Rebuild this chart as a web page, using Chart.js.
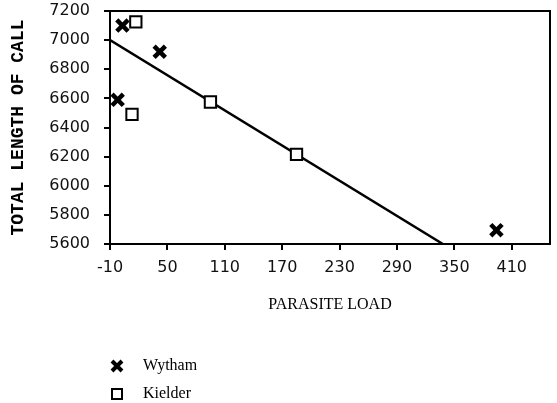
<!DOCTYPE html>
<html>
<head>
<meta charset="utf-8">
<script src="https://cdn.jsdelivr.net/npm/chart.js@4/dist/chart.umd.min.js"></script>
<style>
  html, body { margin: 0; padding: 0; background: #fff; }
  #wrap { position: relative; width: 557px; height: 403px; }
</style>
</head>
<body>
<div id="wrap"><canvas id="c" width="557" height="403"></canvas></div>
<script>
// ---- data ----
const xTickValues = [-10, 50, 110, 170, 230, 290, 350, 410];
const yTickValues = [5600, 5800, 6000, 6200, 6400, 6600, 6800, 7000, 7200];
const seriesNames = ['Wytham', 'Kielder'];
const wythamLoad = [3, 42, -2, 394];
const wythamCall = [7100, 6920, 6590, 5695];
const kielderLoad = [17, 13, 95, 185];
const kielderCall = [7125, 6490, 6575, 6215];
const fitLoad = [-10, 338];
const fitCall = [7000, 5600];
const xTitle = 'PARASITE LOAD';
const yTitle = 'TOTAL LENGTH OF CALL';

const toPts = (xs, ys) => xs.map((x, i) => ({x: x, y: ys[i]}));

const frame = {
  id: 'frame',
  afterDatasetsDraw(chart) {
    const {ctx, chartArea: a} = chart;
    ctx.save();
    ctx.strokeStyle = '#000';
    ctx.lineWidth = 2;
    ctx.beginPath();
    ctx.moveTo(a.left, a.top);
    ctx.lineTo(a.right, a.top);
    ctx.lineTo(a.right, a.bottom);
    ctx.stroke();
    ctx.restore();
  }
};

const legendPlugin = {
  id: 'sideLegend',
  afterDraw(chart) {
    const ctx = chart.ctx;
    const items = [
      {ds: chart.data.datasets[1], y: 366},
      {ds: chart.data.datasets[2], y: 394}
    ];
    ctx.save();
    items.forEach(it => {
      const cx = 117, cy = it.y;
      ctx.strokeStyle = '#000';
      ctx.fillStyle = '#fff';
      if (it.ds.pointStyle === 'crossRot') {
        ctx.lineWidth = 4;
        ctx.beginPath();
        ctx.moveTo(cx - 5, cy - 5); ctx.lineTo(cx + 5, cy + 5);
        ctx.moveTo(cx + 5, cy - 5); ctx.lineTo(cx - 5, cy + 5);
        ctx.stroke();
      } else {
        ctx.lineWidth = 2;
        ctx.fillRect(cx - 5, cy - 5, 10, 10);
        ctx.strokeRect(cx - 5, cy - 5, 10, 10);
      }
      ctx.fillStyle = '#000';
      ctx.font = '16px "Liberation Serif", serif';
      ctx.textBaseline = 'middle';
      ctx.textAlign = 'left';
      ctx.fillText(it.ds.label, 143, cy);
    });
    ctx.restore();
  }
};

new Chart(document.getElementById('c'), {
  type: 'scatter',
  data: {
    datasets: [
      {
        type: 'line',
        label: 'fit',
        data: toPts(fitLoad, fitCall),
        borderColor: '#000',
        borderWidth: 2.5,
        pointRadius: 0,
        fill: false,
        order: 3
      },
      {
        label: seriesNames[0],
        data: toPts(wythamLoad, wythamCall),
        pointStyle: 'crossRot',
        radius: 8,
        borderWidth: 4.5,
        borderColor: '#000',
        backgroundColor: '#000',
        order: 1
      },
      {
        label: seriesNames[1],
        data: toPts(kielderLoad, kielderCall),
        pointStyle: 'rect',
        radius: 8,
        borderWidth: 2,
        borderColor: '#000',
        backgroundColor: '#fff',
        order: 2
      }
    ]
  },
  options: {
    responsive: false,
    animation: false,
    layout: { autoPadding: false, padding: { left: 0, right: 7, top: 11, bottom: 0 } },
    plugins: { legend: { display: false }, tooltip: { enabled: false } },
    scales: {
      x: {
        type: 'linear',
        min: -10,
        max: 450,
        afterBuildTicks(scale) { scale.ticks = xTickValues.map(v => ({value: v})); },
        afterFit(scale) { scale.height = 159; scale.paddingLeft = 0; scale.paddingRight = 0; },
        grid: { display: true, drawOnChartArea: false, drawTicks: true, tickLength: 6, color: '#000', lineWidth: 2 },
        border: { display: true, color: '#000', width: 2 },
        ticks: { color: '#111', padding: 8, maxRotation: 0, font: { family: '"DejaVu Sans", sans-serif', size: 16 },
                 callback: v => String(v) },
        title: {
          display: true, text: xTitle, color: '#000',
          font: { family: '"Liberation Serif", serif', size: 16 },
          padding: { top: 0, bottom: 89 }
        }
      },
      y: {
        type: 'linear',
        min: 5600,
        max: 7200,
        afterBuildTicks(scale) { scale.ticks = yTickValues.map(v => ({value: v})); },
        afterFit(scale) { scale.width = 110; scale.paddingTop = 0; scale.paddingBottom = 0; },
        grid: { display: true, drawOnChartArea: false, drawTicks: true, tickLength: 6, color: '#000', lineWidth: 2 },
        border: { display: true, color: '#000', width: 2 },
        ticks: { color: '#111', padding: 14, font: { family: '"DejaVu Sans", sans-serif', size: 16 },
                 callback: v => String(v) },
        title: {
          display: true, text: yTitle, color: '#000',
          font: { family: '"Liberation Mono", monospace', size: 18, weight: 'bold' },
          padding: { top: 8, bottom: 0 }
        }
      }
    }
  },
  plugins: [frame, legendPlugin]
});
</script>
</body>
</html>
